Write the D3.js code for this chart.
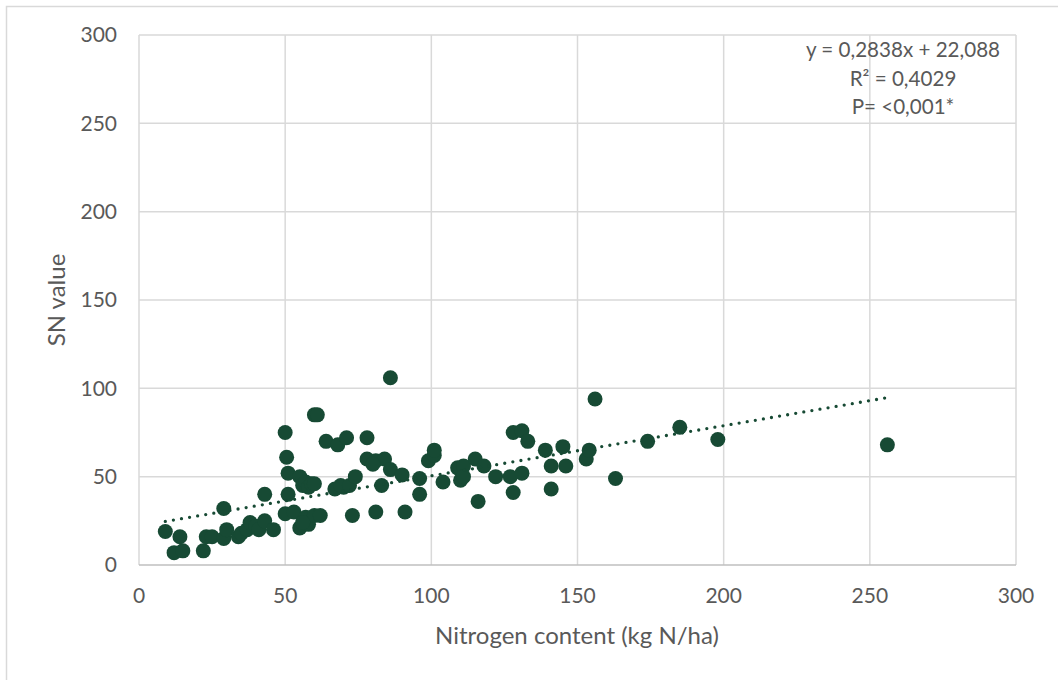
<!DOCTYPE html>
<html><head><meta charset="utf-8">
<script src="https://cdn.jsdelivr.net/npm/d3@7"></script>
<style>html,body{margin:0;padding:0;background:#fff;}svg{display:block;}</style>
</head><body>
<svg id="c" width="1058" height="680"></svg>
<script>
const nitrogen = [9,12,14,15,22,23,25,29,29,30,34,35,37,38,40,41,43,43,46,50,50.5,51,51,50,53,55,55,56,57,58,59,60,58,57,60,62,56,60,61,64,68,71,67,70,69,72,74,73,78,78,81,84,80,83,86,86,90,96,96,81,91,99,101,101,104,109,111,110,111,115,116,118,122,127,128,128,131,133,131,139,141,141,145,146,153,154,156,163,174,185,198,256];
const snValue  = [19,7,16,8,8,16,16,32,15,20,16,18,20,24,22,20,40,25,20,75,61,52,40,29,30,21,50,45,47,44,46,46,23,27,28,28,24,85,85,70,68,72,43,44,45,45,50,28,72,60,59,60,57,45,106,54,51,49,40,30,30,59,62,65,47,55,56,48,50,60,36,56,50,50,41,75,76,70,52,65,56,43,67,56,60,65,94,49,70,78,71,68];
const xTicks = [0,50,100,150,200,250,300];
const yTicks = [0,50,100,150,200,250,300];
const trendSlope = 0.2838, trendIntercept = 22.088;
const annotation = ["y = 0,2838x + 22,088", "R² = 0,4029", "P= <0,001*"];
const xTitle = "Nitrogen content (kg N/ha)";
const yTitle = "SN value";

const svg = d3.select("#c");
const font = "Lato, 'Open Sans', sans-serif";
const pL = 139, pR = 1016, pT = 35, pB = 565;
const x = d3.scaleLinear().domain([0,300]).range([pL,pR]);
const y = d3.scaleLinear().domain([0,300]).range([pB,pT]);
const col = "#174a34";

// outer chart border
svg.append("rect").attr("x",6.5).attr("y",6.5).attr("width",1070).attr("height",700)
  .attr("fill","#fff").attr("stroke","#d9d9d9").attr("stroke-width",1.5);

// gridlines
svg.append("g").selectAll("line").data(yTicks.filter(d=>d>0)).join("line")
  .attr("x1",pL).attr("x2",pR).attr("y1",d=>y(d)).attr("y2",d=>y(d))
  .attr("stroke","#d9d9d9").attr("stroke-width",1.5);
svg.append("g").selectAll("line").data(xTicks).join("line")
  .attr("y1",pT).attr("y2",pB).attr("x1",d=>x(d)).attr("x2",d=>x(d))
  .attr("stroke","#d9d9d9").attr("stroke-width",1.5);
// x axis line
svg.append("line").attr("x1",pL).attr("x2",pR).attr("y1",y(0)).attr("y2",y(0))
  .attr("stroke","#bfbfbf").attr("stroke-width",1.5);

// tick labels
svg.append("g").selectAll("text").data(yTicks).join("text")
  .attr("x",117).attr("y",d=>y(d)).attr("dy","0.35em").attr("text-anchor","end")
  .attr("font-family",font).attr("font-size",21).attr("fill","#595959").text(d=>d);
svg.append("g").selectAll("text").data(xTicks).join("text")
  .attr("x",d=>x(d)).attr("y",603).attr("text-anchor","middle")
  .attr("font-family",font).attr("font-size",21).attr("fill","#595959").text(d=>d);

// titles
svg.append("text").attr("x",577).attr("y",644).attr("text-anchor","middle")
  .attr("font-family",font).attr("font-size",24).attr("fill","#595959").text(xTitle);
svg.append("text").attr("transform","translate(65,300) rotate(-90)").attr("text-anchor","middle")
  .attr("font-family",font).attr("font-size",24).attr("fill","#595959").text(yTitle);

// points
const data = nitrogen.map((n,i)=>({n, s: snValue[i]}));
svg.append("g").selectAll("circle").data(data).join("circle")
  .attr("cx",d=>x(d.n)).attr("cy",d=>y(d.s)).attr("r",7.5).attr("fill",col);

// trendline
const xmin = d3.min(nitrogen), xmax = d3.max(nitrogen);
svg.append("line")
  .attr("x1",x(xmin)).attr("y1",y(trendSlope*xmin+trendIntercept))
  .attr("x2",x(xmax)).attr("y2",y(trendSlope*xmax+trendIntercept))
  .attr("stroke",col).attr("stroke-width",3.3).attr("stroke-linecap","round")
  .attr("stroke-dasharray","0 8.2");

// annotation
svg.append("g").selectAll("text").data(annotation).join("text")
  .attr("x",903).attr("y",(d,i)=>57+i*28.5).attr("text-anchor","middle")
  .attr("font-family",font).attr("font-size",20.6).attr("fill","#595959").text(d=>d);
</script>
</body></html>
